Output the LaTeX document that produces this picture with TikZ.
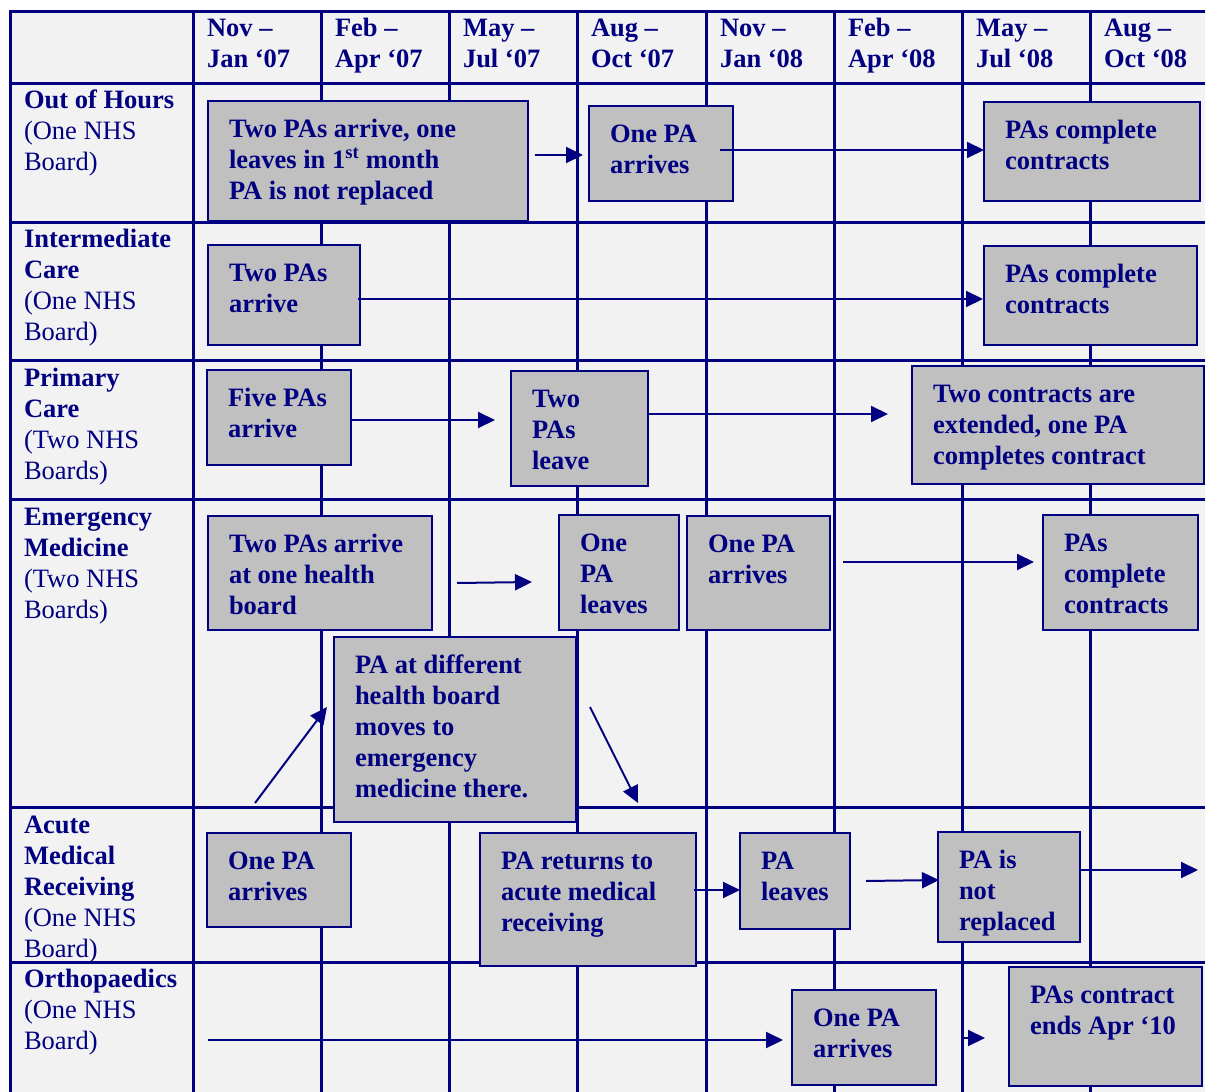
\documentclass[tikz,border=0pt]{standalone}
\usepackage{fontspec}
\setmainfont{Liberation Serif}
\usetikzlibrary{arrows.meta}
\definecolor{navy}{RGB}{0,0,128}
\definecolor{cellbg}{RGB}{242,242,242}
\definecolor{boxgray}{RGB}{192,192,192}
\newcommand\tl[1]{\begin{tabular}[t]{@{}l@{}}#1\end{tabular}}
\newcommand\pbx[6]{%
  \node[pbox, minimum width={#4-#2}, minimum height={#5-#3}] (#1) at (#2,#3) {};
  \node[ptext, font=\fontsize{26.5}{31}\selectfont\bfseries] (#1t) at ([xshift=21pt,yshift=-36pt]#1.north west) {\tl{#6}};}
\tikzset{
  gridline/.style={line width=3pt, draw=navy},
  pbox/.style={draw=navy, line width=2.5pt, fill=boxgray, anchor=north west, inner sep=0pt, outer sep=0pt},
  ptext/.style={anchor=base west, inner sep=0pt, outer sep=0pt, text=navy},
  lbl/.style={anchor=base west, inner sep=0pt, outer sep=0pt, text=navy, font=\fontsize{26.5}{31}\selectfont},
  arr/.style={draw=navy, line width=2pt, -{Triangle[length=17pt,width=16pt]}},
}
\begin{document}
\begin{tikzpicture}[x={(1pt,0)}, y={(0,-1pt)}]
\useasboundingbox (0,0) rectangle (1205,1092);
\fill[white] (0,0) rectangle (1205,1092);
\fill[cellbg] (10,11) rectangle (1205,1092);
% grid
\foreach \yy in {11,83,222,360,499,807,962} \draw[gridline] (8.5,\yy) -- (1205,\yy);
\foreach \xx in {10,193,321,449,577,706,834,962,1090} \draw[gridline] (\xx,9.5) -- (\xx,1092);
% header
\node[lbl] (h1) at (207,36) {\tl{\textbf{Nov –}\\\textbf{Jan ‘07}}};
\node[lbl] (h2) at (335,36) {\tl{\textbf{Feb –}\\\textbf{Apr ‘07}}};
\node[lbl] (h3) at (463,36) {\tl{\textbf{May –}\\\textbf{Jul ‘07}}};
\node[lbl] (h4) at (591,36) {\tl{\textbf{Aug –}\\\textbf{Oct ‘07}}};
\node[lbl] (h5) at (720,36) {\tl{\textbf{Nov –}\\\textbf{Jan ‘08}}};
\node[lbl] (h6) at (848,36) {\tl{\textbf{Feb –}\\\textbf{Apr ‘08}}};
\node[lbl] (h7) at (976,36) {\tl{\textbf{May –}\\\textbf{Jul ‘08}}};
\node[lbl] (h8) at (1104,36) {\tl{\textbf{Aug –}\\\textbf{Oct ‘08}}};
% row labels
\node[lbl] (r1) at (24,108) {\tl{\textbf{Out of Hours}\\(One NHS\\Board)}};
\node[lbl] (r2) at (24,247) {\tl{\textbf{Intermediate}\\\textbf{Care}\\(One NHS\\Board)}};
\node[lbl] (r3) at (24,386) {\tl{\textbf{Primary}\\\textbf{Care}\\(Two NHS\\Boards)}};
\node[lbl] (r4) at (24,525) {\tl{\textbf{Emergency}\\\textbf{Medicine}\\(Two NHS\\Boards)}};
\node[lbl] (r5) at (24,833) {\tl{\textbf{Acute}\\\textbf{Medical}\\\textbf{Receiving}\\(One NHS\\Board)}};
\node[lbl] (r6) at (24,987) {\tl{\textbf{Orthopaedics}\\(One NHS\\Board)}};
% boxes
\pbx{b1}{208}{101}{528}{221}{Two PAs arrive, one\\leaves in 1\textsuperscript{st} month\\PA is not replaced}
\pbx{b2}{589}{106}{733}{201}{One PA\\arrives}
\pbx{b3}{984}{102}{1200}{201}{PAs complete\\contracts}
\pbx{b4}{208}{245}{360}{345}{Two PAs\\arrive}
\pbx{b5}{984}{246}{1197}{345}{PAs complete\\contracts}
\pbx{b6}{207}{370}{351}{465}{Five PAs\\arrive}
\pbx{b7}{511}{371}{648}{486}{Two\\PAs\\leave}
\pbx{b8}{912}{366}{1204}{484}{Two contracts are\\extended, one PA\\completes contract}
\pbx{b9}{208}{516}{432}{630}{Two PAs arrive\\at one health\\board}
\pbx{b10}{559}{515}{679}{630}{One\\PA\\leaves}
\pbx{b11}{687}{516}{830}{630}{One PA\\arrives}
\pbx{b12}{1043}{515}{1198}{630}{PAs\\complete\\contracts}
\pbx{b13}{334}{637}{576}{822}{PA at different\\health board\\moves to\\emergency\\medicine there.}
\pbx{b14}{207}{833}{351}{927}{One PA\\arrives}
\pbx{b15}{480}{833}{696}{966}{PA returns to\\acute medical\\receiving}
\pbx{b16}{740}{833}{850}{929}{PA\\leaves}
\pbx{b17}{938}{832}{1080}{942}{PA is\\not\\replaced}
\pbx{b18}{792}{990}{936}{1085}{One PA\\arrives}
\pbx{b19}{1009}{967}{1202}{1086}{PAs contract\\ends Apr ‘10}
% arrow end points
\coordinate (a1s) at (535,155);  \coordinate (a1e) at (583,155);
\coordinate (a2s) at (720,150);  \coordinate (a2e) at (984,150);
\coordinate (a3s) at (358,299);  \coordinate (a3e) at (983,299);
\coordinate (a4s) at (351,420);  \coordinate (a4e) at (495,420);
\coordinate (a5s) at (648,414);  \coordinate (a5e) at (888,414);
\coordinate (a6s) at (457,583);  \coordinate (a6e) at (532,582);
\coordinate (a7s) at (843,562);  \coordinate (a7e) at (1034,562);
\coordinate (a8s) at (255,803);  \coordinate (a8e) at (327,707);
\coordinate (a9s) at (590,707);  \coordinate (a9e) at (638,803);
\coordinate (a10s) at (694,890); \coordinate (a10e) at (740,890);
\coordinate (a11s) at (866,881); \coordinate (a11e) at (939,880);
\coordinate (a12s) at (1080,870); \coordinate (a12e) at (1198,870);
\coordinate (a13s) at (208,1040); \coordinate (a13e) at (783,1040);
\coordinate (a14s) at (962,1038); \coordinate (a14e) at (985,1038);
\foreach \i in {1,...,14} \draw[arr] (a\i s) -- (a\i e);
\end{tikzpicture}
\end{document}
